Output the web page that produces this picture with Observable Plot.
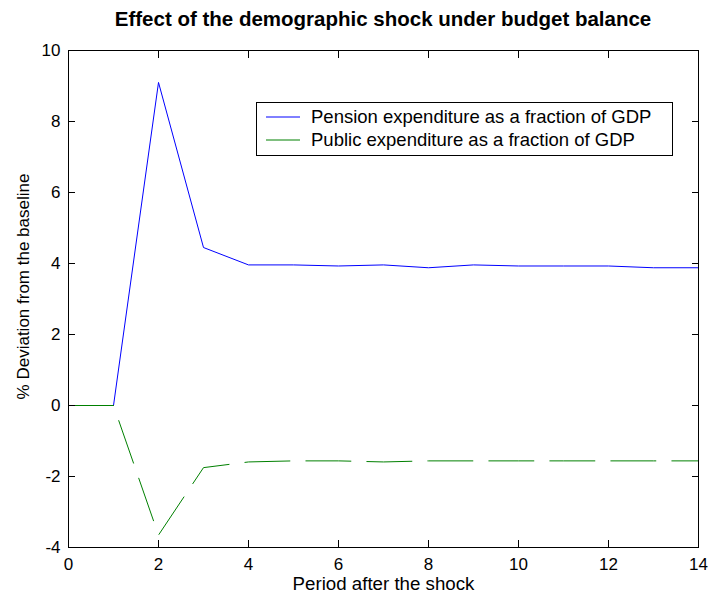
<!DOCTYPE html>
<html>
<head>
<meta charset="utf-8">
<script src="https://cdn.jsdelivr.net/npm/d3@7"></script>
<script src="https://cdn.jsdelivr.net/npm/@observablehq/plot@0.6"></script>
<style>
  html, body { margin: 0; padding: 0; background: #fff; }
  #wrap { position: relative; width: 710px; height: 596px; font-family: "Liberation Sans", Arial, sans-serif; }
  #title { position: absolute; left: 68px; width: 630px; top: 9px; height: 28px; text-align: center; font-weight: bold; font-size: 20.5px; line-height: 1; color: #000; }
  #chart { position: absolute; left: 0; top: 40px; }
  #legend { position: absolute; left: 256px; top: 102px; width: 415px; height: 52px; border: 1px solid #000; background: #fff; }
  .row { position: absolute; left: 0; height: 22px; width: 100%; }
  .row svg { position: absolute; left: 9px; top: 0; }
  .row span { position: absolute; left: 54px; top: 0; font-size: 18.5px; line-height: 22px; white-space: nowrap; color: #000; }
</style>
</head>
<body>
<div id="wrap">
  <div id="title"></div>
  <div id="chart"></div>
  <div id="legend"></div>
</div>
<script>
const titleText = "Effect of the demographic shock under budget balance";
const xLabel = "Period after the shock";
const yLabel = "% Deviation from the baseline";
const seriesNames = ["Pension expenditure as a fraction of GDP", "Public expenditure as a fraction of GDP"];
const seriesColors = ["#0000ff", "#008000"];

const periods = [0, 1, 2, 3, 4, 5, 6, 7, 8, 9, 10, 11, 12, 13, 14];
const pension = [0, 0, 9.1, 4.45, 3.96, 3.96, 3.93, 3.96, 3.88, 3.96, 3.93, 3.93, 3.93, 3.88, 3.88];
const publicExp = [0, 0, -3.65, -1.75, -1.59, -1.56, -1.56, -1.59, -1.56, -1.56, -1.56, -1.56, -1.56, -1.56, -1.56];

const xTicks = [0, 2, 4, 6, 8, 10, 12, 14];
const yTicks = [-4, -2, 0, 2, 4, 6, 8, 10];

document.getElementById("title").textContent = titleText;

const rows = periods.map((p, i) => ({p, pension: pension[i], pub: publicExp[i]}));
const fmt = d => String(d);

const chart = Plot.plot({
  width: 710,
  height: 556,
  marginTop: 10,
  marginBottom: 49,
  marginLeft: 68,
  marginRight: 12,
  style: {fontFamily: "Liberation Sans, Arial, sans-serif", color: "#000", background: "#fff"},
  x: {domain: [0, 14]},
  y: {domain: [-4, 10]},
  marks: [
    Plot.line(rows, {x: "p", y: "pension", stroke: seriesColors[0], strokeWidth: 1}),
    Plot.line(rows, {x: "p", y: "pub", stroke: seriesColors[1], strokeWidth: 1, strokeDasharray: "45,16"}),
    Plot.axisX(xTicks, {anchor: "bottom", tickSize: -7, tickPadding: 17, fontSize: 17, label: null, tickFormat: fmt}),
    Plot.axisX(xTicks, {anchor: "top", tickSize: -7, tickFormat: () => "", label: null}),
    Plot.axisY(yTicks, {anchor: "left", tickSize: -7, tickPadding: 15, fontSize: 17, label: null, tickFormat: fmt}),
    Plot.axisY(yTicks, {anchor: "right", tickSize: -7, tickFormat: () => "", label: null}),
    Plot.frame({stroke: "#000", strokeWidth: 1}),
    Plot.text([xLabel], {frameAnchor: "bottom", dy: 37, lineAnchor: "middle", textAnchor: "middle", fontSize: 18.7, fill: "#000"}),
    Plot.text([yLabel], {frameAnchor: "left", rotate: -90, dx: -44.5, dy: -12.5, lineAnchor: "middle", textAnchor: "middle", fontSize: 17, fill: "#000"})
  ]
});
document.getElementById("chart").appendChild(chart);

const legend = document.getElementById("legend");
seriesNames.forEach((name, i) => {
  const row = document.createElement("div");
  row.className = "row";
  row.style.top = (3 + i * 23) + "px";
  row.innerHTML = `<svg width="34" height="22"><line x1="0" x2="34" y1="11" y2="11" stroke="${seriesColors[i]}" stroke-width="1"/></svg>`;
  const span = document.createElement("span");
  span.textContent = name;
  row.appendChild(span);
  legend.appendChild(row);
});
</script>
</body>
</html>
